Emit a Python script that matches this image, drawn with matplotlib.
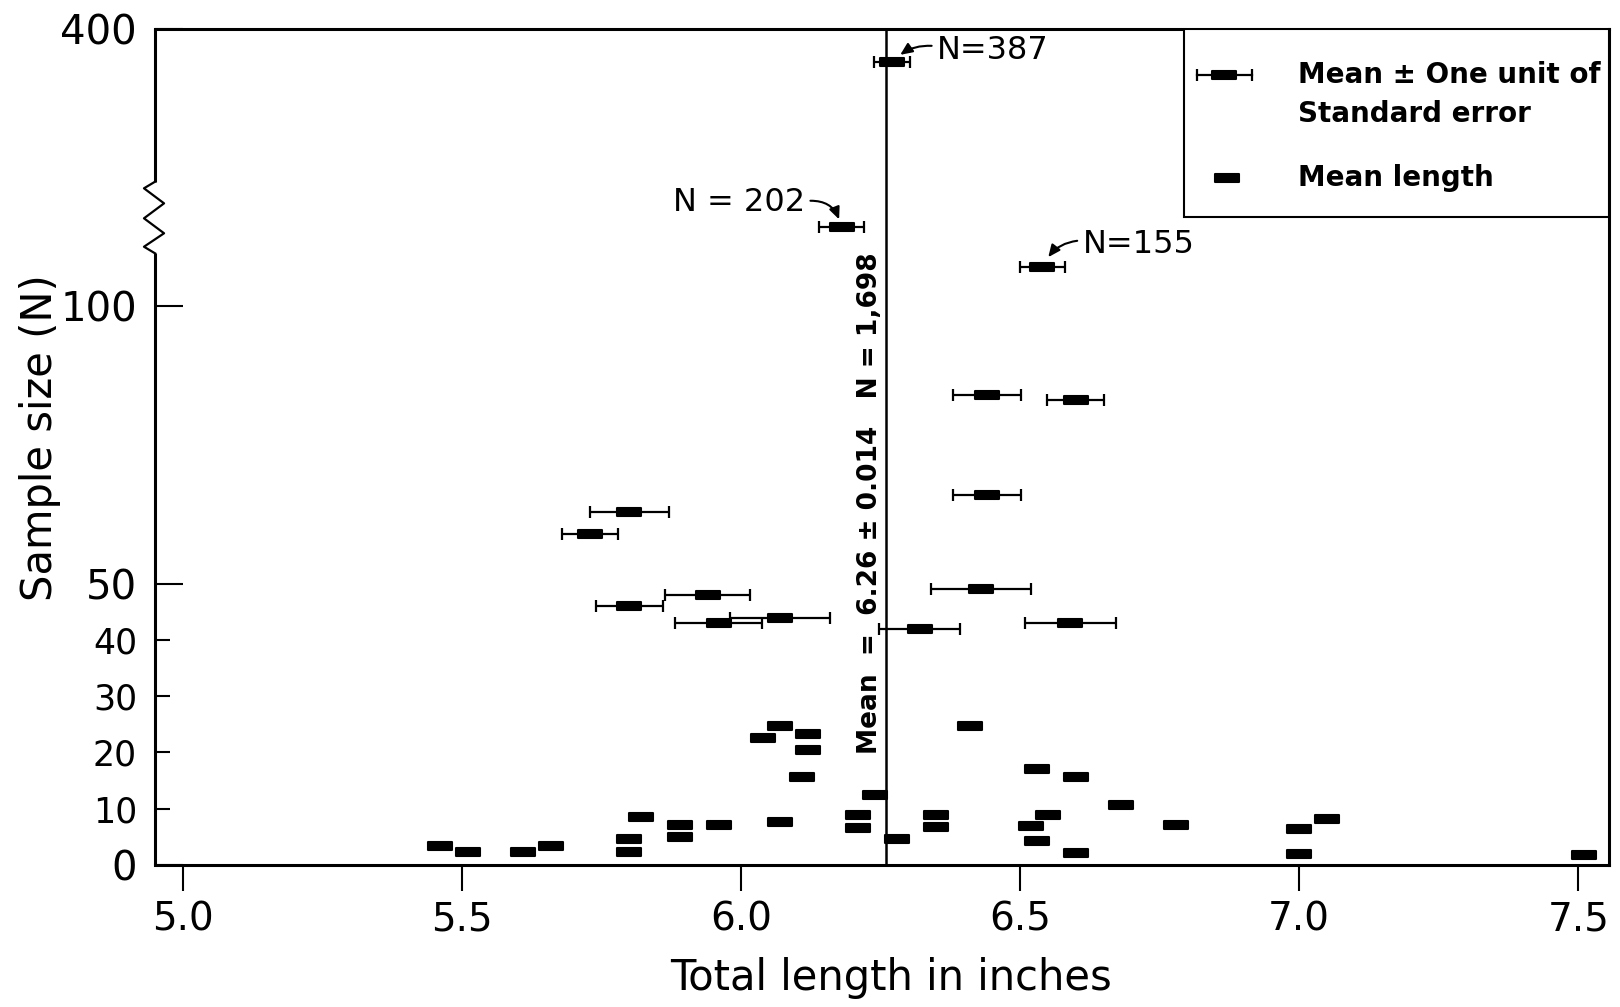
# -*- coding: utf-8 -*-
"""
Sample size (N) vs mean total length (inches), with standard-error bars for
the larger samples and the pooled mean as a vertical line.
Y axis is broken above 100 (zig-zag), so a piecewise scale is used.
"""
import numpy as np
import matplotlib
matplotlib.use("Agg")
import matplotlib.pyplot as plt
from matplotlib.path import Path
from matplotlib.markers import MarkerStyle
from matplotlib.patches import Rectangle

# ---------------------------------------------------------------------------
# Data
# ---------------------------------------------------------------------------
# samples with mean +/- one standard error
EB_LEN = [6.27, 6.18, 6.54, 6.44, 6.60, 6.44, 5.80, 5.73, 6.43, 5.94, 5.80,
          6.07, 5.96, 6.59, 6.32]
EB_N   = [387, 202, 155, 84, 83, 66, 63, 59, 49, 48, 46, 44, 43, 43, 42]
EB_SE  = [0.032, 0.041, 0.040, 0.061, 0.051, 0.061, 0.070, 0.050, 0.089,
          0.076, 0.060, 0.089, 0.078, 0.081, 0.072]

# small samples, mean length only
ML_LEN = [5.46, 5.51, 5.61, 5.66, 5.80, 5.80, 5.82, 5.89, 5.89, 5.96,
          6.04, 6.07, 6.12, 6.12, 6.11, 6.07, 6.21, 6.21, 6.24, 6.28,
          6.35, 6.35, 6.41, 6.53, 6.60, 6.68, 6.55, 6.52, 6.53, 6.60,
          6.78, 7.00, 7.00, 7.05, 7.51]
ML_N   = [3.4, 2.3, 2.2, 3.4, 4.6, 2.2, 8.5, 7.1, 5.0, 7.1,
          22.6, 24.7, 23.2, 20.4, 15.6, 7.7, 8.9, 6.5, 12.4, 4.6,
          8.9, 6.7, 24.7, 17.1, 15.6, 10.6, 8.9, 6.9, 4.3, 2.1,
          7.0, 6.4, 2.0, 8.1, 1.7]

MEAN_ALL = 6.26
MEAN_TXT = "Mean  =  6.26 ± 0.014   N = 1,698"

# labelled samples: (text, index into EB_*)
CALLOUTS = [("N=387", 0), ("N = 202", 1), ("N=155", 2)]

X_TICKS = [5.0, 5.5, 6.0, 6.5, 7.0, 7.5]
Y_MAJOR = [0, 50, 100, 400]
Y_MINOR = [10, 20, 30, 40]

# broken y axis: value -> position (linear up to 100, squeezed above)
SCALE_N   = [0, 50, 100, 155, 202, 387, 400]
SCALE_POS = [0, 272, 541, 579, 617, 777, 809]


def _fwd(n):
    return np.interp(n, SCALE_N, SCALE_POS)


def _inv(p):
    return np.interp(p, SCALE_POS, SCALE_N)


# flat rectangular "mean" marker
BOX = MarkerStyle(Path([(-1, -0.36), (1, -0.36), (1, 0.36), (-1, 0.36),
                        (-1, -0.36)], closed=True), joinstyle="round")
BOX_KW = dict(ls="none", marker=BOX, ms=17, mfc="black", mec="black", mew=1.5)

# ---------------------------------------------------------------------------
# Figure
# ---------------------------------------------------------------------------
fig = plt.figure(figsize=(16.2, 10.07), dpi=100, facecolor="white")
ax = fig.add_axes([0.0957, 0.1412, 0.8975, 0.8300])
ax.set_yscale("function", functions=(_fwd, _inv))
ax.set_xlim(4.95, 7.555)
ax.set_ylim(0, 400)

ax.axvline(MEAN_ALL, color="black", lw=1.8, zorder=2)

ax.errorbar(EB_LEN, EB_N, xerr=EB_SE, fmt="none", ecolor="black",
            elinewidth=1.6, capsize=4, capthick=1.6, zorder=3)
ax.plot(EB_LEN, EB_N, zorder=4, **BOX_KW)
ax.plot(ML_LEN, ML_N, zorder=4, **BOX_KW)

ax.annotate(MEAN_TXT, xy=(MEAN_ALL, 0.433), xycoords=ax.get_xaxis_transform(),
            xytext=(-2, 0), textcoords="offset points", rotation=90,
            ha="right", va="center", fontsize=19, fontweight="bold")

# call-outs for the three big samples
offsets = {0: (32.7, 8.0, 0.25, 8, (0, 0.65), "left"),
           1: (-26.4, 17.8, -0.45, 6, (1, 0.55), "right"),
           2: (29.0, 15.6, 0.3, 8, (0, 0.65), "left")}
for txt, i in CALLOUTS:
    dx, dy, rad, shr, rel, ha = offsets[i]
    ax.annotate(txt, xy=(EB_LEN[i], EB_N[i]), xytext=(dx, dy),
                textcoords="offset points", ha=ha, va="center", fontsize=23,
                arrowprops=dict(arrowstyle="-|>,head_length=0.45,head_width=0.2",
                                mutation_scale=16, color="black", lw=1.5,
                                connectionstyle=f"arc3,rad={rad}",
                                shrinkA=2, shrinkB=shr, relpos=rel))

# ---------------------------------------------------------------------------
# Axes, ticks, broken left spine
# ---------------------------------------------------------------------------
ax.set_xticks(X_TICKS, labels=[f"{v:.1f}" for v in X_TICKS])
ax.set_yticks(Y_MAJOR, labels=[str(v) for v in Y_MAJOR])
ax.set_yticks(Y_MINOR, labels=[str(v) for v in Y_MINOR], minor=True)
ax.tick_params(axis="x", direction="out", length=19, width=1.5, pad=7,
               labelsize=28)
ax.tick_params(axis="y", which="major", direction="in", length=20, width=1.5,
               pad=13, labelsize=29)
ax.tick_params(axis="y", which="minor", direction="in", length=11, width=1.5,
               pad=13, labelsize=25)

for s in ("top", "right", "bottom"):
    ax.spines[s].set_linewidth(2.2)
ax.spines["left"].set_visible(False)
ax.plot([0, 0], [0, 0.7316], color="black", lw=2.2, transform=ax.transAxes,
        clip_on=False, solid_capstyle="butt")
ax.plot([0, 0], [0.8173, 1.0], color="black", lw=2.2, transform=ax.transAxes,
        clip_on=False, solid_capstyle="butt")
zx = [0, -0.0076, 0.0062, -0.0076, 0.0062, -0.0076, 0]
zy = [0.7316, 0.7395, 0.7556, 0.7735, 0.7914, 0.8094, 0.8173]
ax.plot(zx, zy, color="black", lw=1.6, transform=ax.transAxes, clip_on=False)

ax.set_xlabel("Total length in inches", fontsize=30)
ax.xaxis.set_label_coords(0.506, -0.11)
ax.set_ylabel("Sample size (N)", fontsize=30)
ax.yaxis.set_label_coords(-0.065, 0.511)

# ---------------------------------------------------------------------------
# Key (drawn by hand, boxed into the upper right corner)
# ---------------------------------------------------------------------------
tA = ax.transAxes
ax.add_patch(Rectangle((0.7077, 0.775), 0.2923, 0.225, transform=tA,
                       facecolor="white", edgecolor="black", lw=1.5, zorder=5))
ax.plot([0.7166, 0.7545], [0.9445, 0.9445], color="black", lw=1.6,
        transform=tA, zorder=6)
ax.plot([0.7166, 0.7545], [0.9445, 0.9445], ls="none", marker="|", ms=8,
        mew=1.6, color="black", transform=tA, zorder=6)
ax.plot([0.7352], [0.9445], transform=tA, zorder=7, **BOX_KW)
ax.plot([0.7376], [0.8221], transform=tA, zorder=7, **BOX_KW)
key_font = dict(fontsize=20, fontweight="bold", va="center", ha="left",
                transform=tA, zorder=7)
ax.text(0.786, 0.9445, "Mean ± One unit of", **key_font)
ax.text(0.786, 0.8988, "Standard error", **key_font)
ax.text(0.786, 0.8221, "Mean length", **key_font)

fig.savefig("out.png", dpi=100, facecolor="white")
plt.close(fig)
